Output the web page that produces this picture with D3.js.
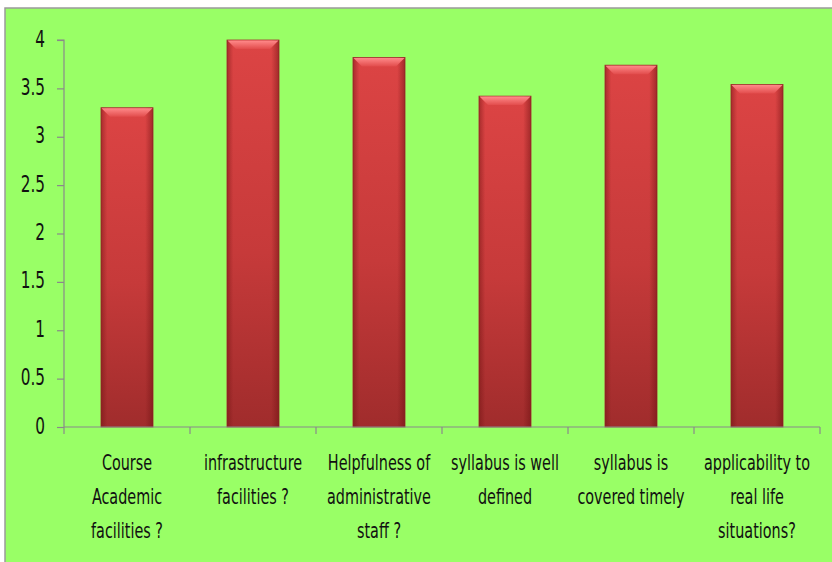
<!DOCTYPE html>
<html><head><meta charset="utf-8">
<script src="https://cdn.jsdelivr.net/npm/d3@7"></script>
<style>html,body{margin:0;padding:0;background:#fff;overflow:hidden}</style>
</head><body>
<svg id="c" width="832" height="562"></svg>
<script>
const categories = [
  "Course\nAcademic\nfacilities ?",
  "infrastructure\nfacilities ?",
  "Helpfulness of\nadministrative\nstaff ?",
  "syllabus is well\ndefined",
  "syllabus is\ncovered timely",
  "applicability to\nreal life\nsituations?"
];
const values = [3.3, 4.0, 3.82, 3.42, 3.74, 3.54];
const yTicks = [0, 0.5, 1, 1.5, 2, 2.5, 3, 3.5, 4];

const svg = d3.select("#c");
const W = 832, H = 562;
const plot = {left: 64, right: 820, top: 40, bottom: 427};
const FONT = "'Liberation Sans Narrow', 'DejaVu Sans Condensed', sans-serif";

svg.append("rect").attr("x", 5).attr("y", 8).attr("width", W).attr("height", H)
  .attr("fill", "#99ff66").attr("stroke", "#9a9a9a").attr("stroke-width", 1.5);

const defs = svg.append("defs");
const gv = defs.append("linearGradient").attr("id", "gv").attr("x1", 0).attr("y1", 0).attr("x2", 0).attr("y2", 1);
gv.append("stop").attr("offset", "0%").attr("stop-color", "#dc4444");
gv.append("stop").attr("offset", "55%").attr("stop-color", "#c63a3a");
gv.append("stop").attr("offset", "100%").attr("stop-color", "#a02c2c");
const gh = defs.append("linearGradient").attr("id", "gh").attr("x1", 0).attr("y1", 0).attr("x2", 1).attr("y2", 0);
gh.append("stop").attr("offset", "0%").attr("stop-color", "#6a1010").attr("stop-opacity", 0.45);
gh.append("stop").attr("offset", "12%").attr("stop-color", "#6a1010").attr("stop-opacity", 0);
gh.append("stop").attr("offset", "85%").attr("stop-color", "#6a1010").attr("stop-opacity", 0);
gh.append("stop").attr("offset", "100%").attr("stop-color", "#6a1010").attr("stop-opacity", 0.5);
const gt = defs.append("linearGradient").attr("id", "gt").attr("x1", 0).attr("y1", 0).attr("x2", 0).attr("y2", 1);
gt.append("stop").attr("offset", "0%").attr("stop-color", "#ff8a8a");
gt.append("stop").attr("offset", "100%").attr("stop-color", "#e24c4c");

const x = d3.scaleBand().domain(categories).range([plot.left, plot.right])
  .paddingInner(0.587).paddingOuter(0.2935);
const y = d3.scaleLinear().domain([0, 4]).range([plot.bottom, plot.top]);

// bars
const bars = svg.append("g").selectAll("g").data(categories).join("g");
bars.append("rect")
  .attr("x", d => x(d)).attr("y", (d, i) => y(values[i]))
  .attr("width", x.bandwidth()).attr("height", (d, i) => y(0) - y(values[i]))
  .attr("fill", "url(#gv)").attr("stroke", "#a33333").attr("stroke-width", 0.8);
bars.append("rect")
  .attr("x", d => x(d)).attr("y", (d, i) => y(values[i]))
  .attr("width", x.bandwidth()).attr("height", (d, i) => y(0) - y(values[i]))
  .attr("fill", "url(#gh)");
bars.append("path")
  .attr("d", (d, i) => {
    const x0 = x(d), x1 = x0 + x.bandwidth(), t = y(values[i]), b = 9;
    return `M${x0 + 0.5},${t + 0.5}L${x1 - 0.5},${t + 0.5}L${x1 - b},${t + b}L${x0 + b},${t + b}Z`;
  })
  .attr("fill", "url(#gt)");

// y axis
const ya = svg.append("g").attr("transform", `translate(${plot.left},0)`)
  .call(d3.axisLeft(y).tickValues(yTicks).tickSize(7).tickPadding(12).tickFormat(d3.format("")));
ya.selectAll("path,line").attr("stroke", "#8a8a8a").attr("stroke-width", 1.2);
ya.select(".domain").attr("d", `M-7,${plot.top}H0V${plot.bottom}`);
ya.selectAll("text").each(function() {
  d3.select(this).attr("dy", null).attr("y", null).attr("x", 0)
   .attr("transform", `translate(-19,6) scale(1,1.3)`)
   .attr("font-family", FONT).attr("font-size", 17).attr("fill", "#111");
});

// x axis
const xa = svg.append("g");
xa.append("line").attr("x1", plot.left).attr("x2", plot.right).attr("y1", y(0)).attr("y2", y(0))
  .attr("stroke", "#8a8a8a").attr("stroke-width", 1.2);
const bounds = categories.map(c => x(c) - x.step() * x.paddingInner() / 2).concat([plot.right]);
xa.selectAll("line.t").data(bounds).join("line").attr("class", "t")
  .attr("x1", d => d).attr("x2", d => d).attr("y1", y(0)).attr("y2", y(0) + 7)
  .attr("stroke", "#8a8a8a").attr("stroke-width", 1.2);

const lbl = svg.append("g").selectAll("g").data(categories).join("g")
  .attr("transform", d => `translate(${x(d) + x.bandwidth() / 2},0)`);
lbl.each(function(d) {
  d3.select(this).selectAll("text").data(d.split("\n")).join("text")
    .attr("text-anchor", "middle")
    .attr("font-family", FONT).attr("font-size", 16).attr("fill", "#111")
    .attr("transform", (s, j) => `translate(0,${470 + j * 34}) scale(1,1.3)`)
    .text(s => s);
});
</script>
</body></html>
